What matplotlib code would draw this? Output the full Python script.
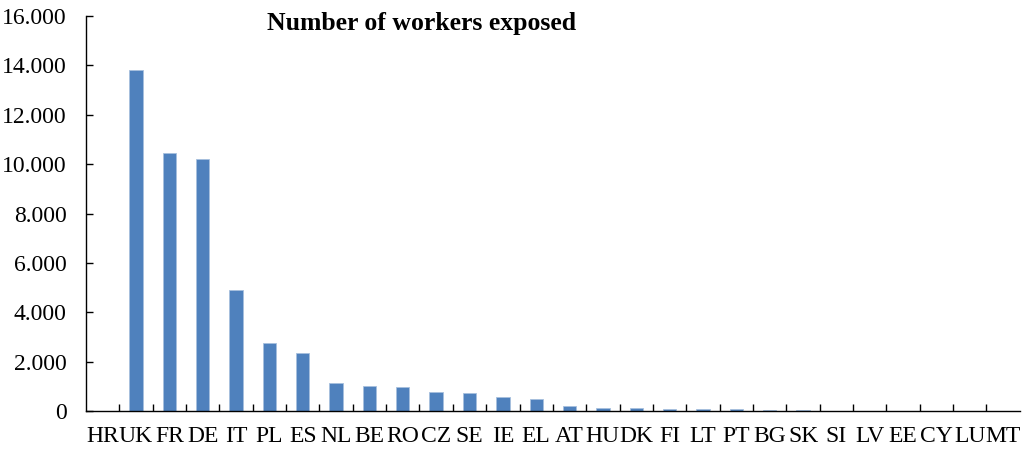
import numpy as np
import matplotlib.pyplot as plt
from matplotlib.ticker import FuncFormatter

countries = ["HR", "UK", "FR", "DE", "IT", "PL", "ES", "NL", "BE", "RO", "CZ", "SE",
             "IE", "EL", "AT", "HU", "DK", "FI", "LT", "PT", "BG", "SK", "SI", "LV",
             "EE", "CY", "LU", "MT"]
workers = [0, 13820, 10470, 10190, 4910, 2770, 2360, 1130, 1000, 960, 750, 720,
           550, 470, 210, 130, 120, 80, 70, 70, 30, 30, 10, 10,
           0, 0, 0, 0]

plt.rcParams['font.family'] = ['Liberation Serif', 'DejaVu Serif']

fig = plt.figure(figsize=(10.27, 4.5), dpi=100)
ax = fig.add_axes([0.0837, 0.0867, 0.9093, 0.8777])

x = np.arange(len(countries))
ax.bar(x, workers, width=0.4, color="#4F81BD", edgecolor="#A7C0DE", linewidth=0.6)

ax.set_xlim(-0.5, len(countries) - 0.5)
ax.set_ylim(0, 16000)
ax.set_yticks(np.arange(0, 16001, 2000))
ax.yaxis.set_major_formatter(FuncFormatter(lambda v, p: f"{int(v):,}".replace(",", ".")))
ax.set_xticks(x)
ax.set_xticklabels(countries)
ax.set_xticks(np.arange(0.5, len(countries) - 0.5, 1), minor=True)
ax.tick_params(axis='x', which='major', length=0, labelsize=17, pad=11)
ax.tick_params(axis='x', which='minor', direction='in', length=5, width=1)
ax.tick_params(axis='y', direction='in', length=5, width=1, labelsize=17, pad=14)

for s in ["top", "right"]:
    ax.spines[s].set_visible(False)
for s in ["left", "bottom"]:
    ax.spines[s].set_linewidth(1)

ax.text(0.359, 0.98, "Number of workers exposed", transform=ax.transAxes,
        ha="center", va="center", fontsize=18.5, fontweight="bold")

fig.savefig("out.png", dpi=100)
